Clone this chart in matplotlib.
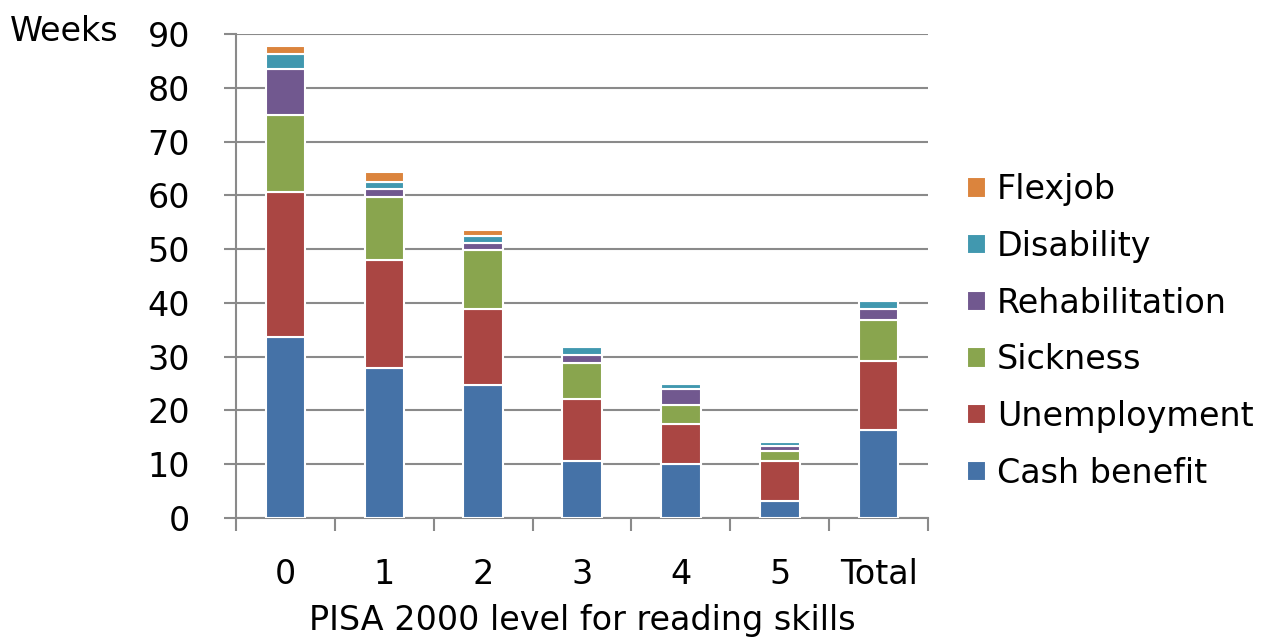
import numpy as np
import matplotlib.pyplot as plt
from matplotlib.ticker import FixedLocator

# Weeks on public benefits by PISA 2000 reading level
levels = ['0', '1', '2', '3', '4', '5', 'Total']
cash_benefit   = [33.6, 27.9, 24.7, 10.6, 10.0, 3.2, 16.4]
unemployment   = [27.0, 20.1, 14.2, 11.5, 7.5, 7.4, 12.8]
sickness       = [14.3, 11.7, 10.9, 6.7, 3.5, 1.9, 7.6]
rehabilitation = [8.6, 1.5, 1.3, 1.5, 3.0, 0.9, 2.1]
disability     = [2.7, 1.3, 1.3, 1.5, 0.9, 0.7, 1.4]
flexjob        = [1.5, 1.8, 1.1, 0.0, 0.0, 0.0, 0.0]

series = [
    ('Cash benefit', cash_benefit, '#4572A7'),
    ('Unemployment', unemployment, '#AA4643'),
    ('Sickness', sickness, '#89A54E'),
    ('Rehabilitation', rehabilitation, '#71588F'),
    ('Disability', disability, '#4198AF'),
    ('Flexjob', flexjob, '#DB843D'),
]

FS = 24
plt.rcParams['font.family'] = ['DejaVu Sans']
fig = plt.figure(figsize=(12.87, 6.37), dpi=100)
ax = fig.add_axes([0.1834, 0.1868, 0.5377, 0.7598])

x = np.arange(len(levels))
bottom = np.zeros(len(levels))
handles = []
for name, vals, col in series:
    vals = np.array(vals)
    b = ax.bar(x, vals, width=0.4, bottom=bottom, color=col,
               edgecolor='white', linewidth=1.5, label=name, zorder=3)
    handles.append(b)
    bottom += vals

ax.set_xlim(-0.5, len(levels) - 0.5)
ax.set_ylim(0, 90)
ax.set_yticks(range(0, 91, 10))
ax.yaxis.grid(True, color='#8a8a8a', linewidth=1.5, zorder=0)
ax.set_axisbelow(True)

ax.set_xticks(x)
ax.set_xticklabels(levels)
ax.tick_params(axis='x', length=0, pad=29, labelsize=FS, colors='black')
# small separators between categories
ax.xaxis.set_minor_locator(FixedLocator(np.arange(-0.5, len(levels), 1.0)))
ax.tick_params(axis='x', which='minor', length=9, width=1.5, color='#8a8a8a')
ax.tick_params(axis='y', length=9, width=1.5, color='#8a8a8a', labelsize=FS, pad=24)

for s in ['top', 'right']:
    ax.spines[s].set_visible(False)
for s in ['left', 'bottom']:
    ax.spines[s].set_color('#8a8a8a')
    ax.spines[s].set_linewidth(1.5)

ax.set_xlabel('PISA 2000 level for reading skills', fontsize=FS, labelpad=9)
fig.text(0.008, 0.95, 'Weeks', fontsize=FS, va='center', ha='left')

leg = fig.legend(handles[::-1], [s[0] for s in series][::-1],
                 loc='center left', bbox_to_anchor=(0.7514, 0.4796),
                 frameon=False, fontsize=FS, handlelength=0.57, handleheight=0.57,
                 handletextpad=0.33, labelspacing=0.71, borderpad=0,
                 borderaxespad=0)

fig.savefig('out.png', dpi=100)
